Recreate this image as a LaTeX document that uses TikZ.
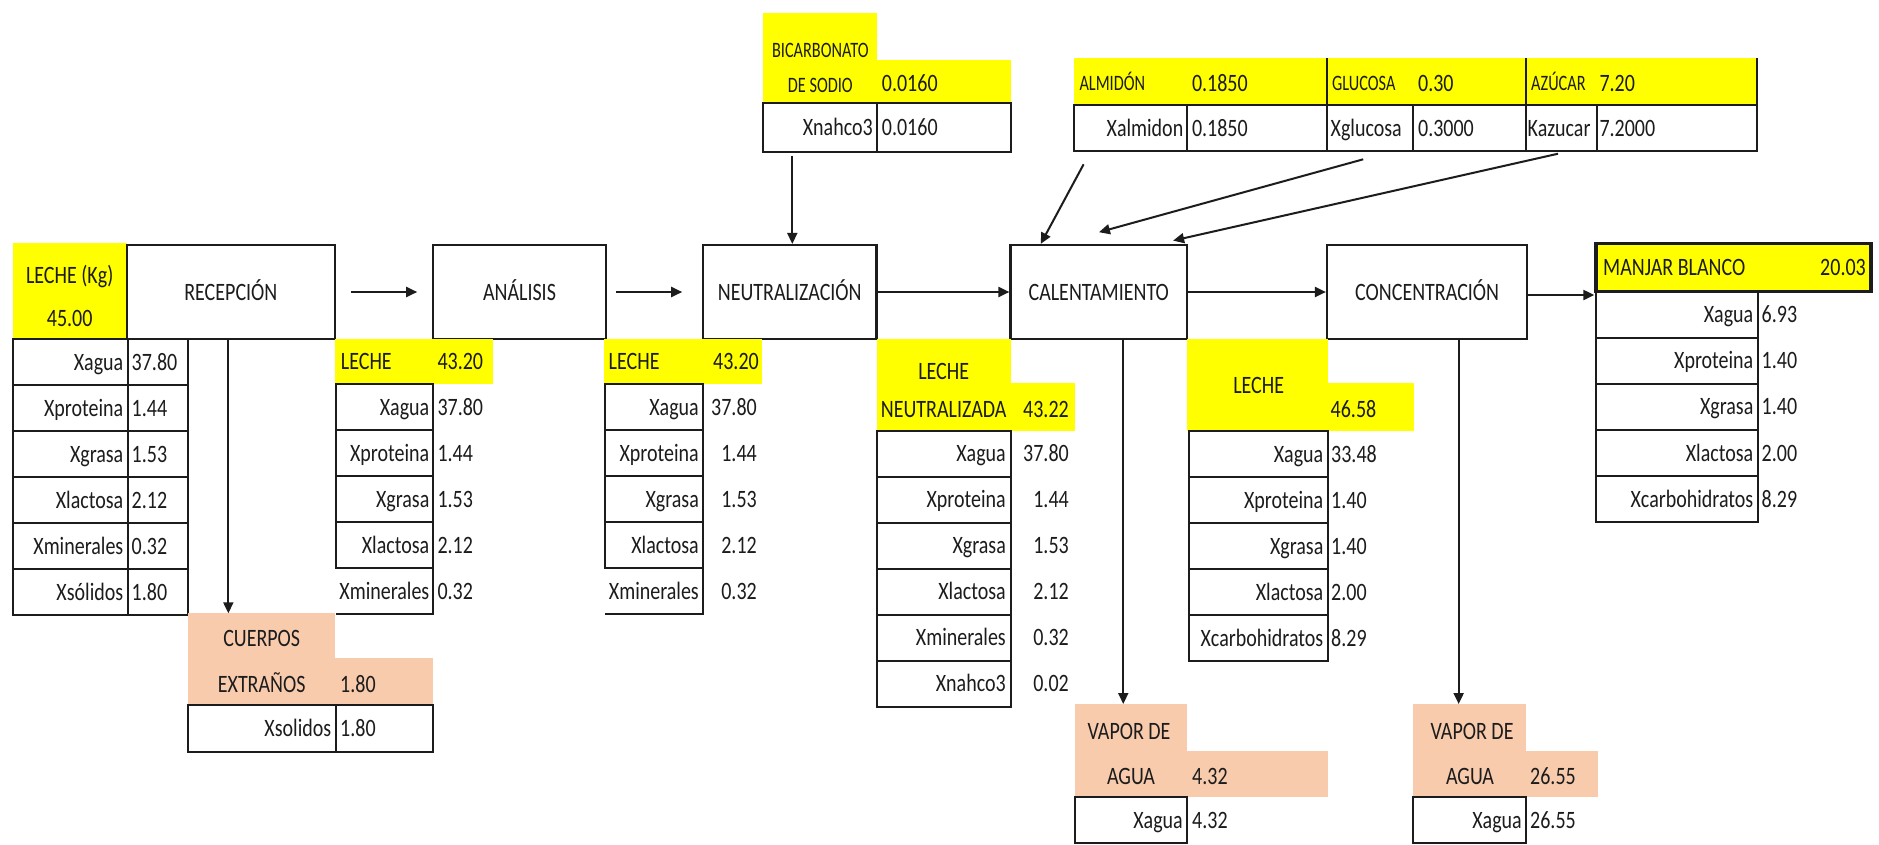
\documentclass[tikz,border=0pt]{standalone}
\usepackage{fontspec}
\setmainfont{Carlito}[FakeStretch=0.8]
\newfontfamily\condfont{Carlito}[FakeStretch=0.74]
\usetikzlibrary{arrows.meta}
\definecolor{yel}{HTML}{FFFF00}
\definecolor{sal}{HTML}{F8CBAD}
\definecolor{ink}{HTML}{1C1C1C}

\begin{document}
\begin{tikzpicture}[x=1pt,y=-1pt,
  txt/.style={text=ink, inner sep=0pt, text height=16pt, text depth=0pt, font=\fontsize{25}{28}\selectfont},
  sm/.style={text=ink, inner sep=0pt, text height=14pt, text depth=0pt, font=\condfont\fontsize{22}{25}\selectfont},
  proc/.style={draw=ink, line width=2.2pt, fill=white, inner sep=0pt, text=ink,
    text height=16pt, text depth=0pt, font=\fontsize{25}{28}\selectfont},
  cell/.style={draw=ink, line width=2pt},
  cellnode/.style={draw=ink, line width=2pt, inner sep=0pt},
  blk/.style={inner sep=0pt, outer sep=0pt},
  arr/.style={draw=ink, line width=2pt, -{Triangle[length=11pt,width=10pt]}},
]
\useasboundingbox (0,0) rectangle (1879,844);
\fill[white] (0,0) rectangle (1879,844);

% ---------- process steps ----------
\node[blk, fill=yel, minimum width=114pt, minimum height=96pt] (lk) at (69.7,291) {};
\node[txt] (lkA) at (69.7,275) {LECHE (Kg)};
\node[txt] (lkB) at (69.7,318) {45.00};

\node[proc, minimum width=208.3pt, minimum height=94pt] (rec)  at (230.85,292) {RECEPCIÓN};
\node[proc, minimum width=172.4pt, minimum height=94pt] (ana)  at (519.5,292)  {ANÁLISIS};
\node[proc, minimum width=173.5pt, minimum height=94pt] (neu)  at (789.75,292) {NEUTRALIZACIÓN};
\node[proc, minimum width=176.5pt, minimum height=94pt] (cal)  at (1098.75,292) {CALENTAMIENTO};
\node[proc, minimum width=200.3pt, minimum height=94pt] (conc) at (1427.15,292) {CONCENTRACIÓN};

% ---------- leche de entrada ----------
\foreach \l/\v [count=\i from 0] in {Xagua/37.80,Xproteina/1.44,Xgrasa/1.53,Xlactosa/2.12,Xminerales/0.32,Xsólidos/1.80}{
  \pgfmathsetmacro\yt{339+46*\i}
  \draw[cell] (12.7,\yt) rectangle (127.7,\yt+46);
  \draw[cell] (127.7,\yt) rectangle (188.3,\yt+46);
  \node[txt, anchor=east] (ra\i) at (123.5,\yt+23) {\l};
  \node[txt, anchor=west] (rb\i) at (131.5,\yt+23) {\v};
}

% ---------- cuerpos extraños ----------
\node[blk, fill=sal, minimum width=146.7pt, minimum height=91.7pt] (cuL) at (261.65,659.15) {};
\node[blk, fill=sal, minimum width=98.3pt, minimum height=46.7pt] (cuV) at (384.15,681.65) {};
\node[txt] (cuA) at (261.7,638.3) {CUERPOS};
\node[txt] (cuB) at (261.7,684) {EXTRAÑOS};
\node[txt, anchor=west] (cuC) at (340,684) {1.80};
\draw[cell] (188.3,705) rectangle (335.7,751.7);
\draw[cell] (335.7,705) rectangle (433.3,751.7);
\node[txt, anchor=east] (cuD) at (331.5,728.3) {Xsolidos};
\node[txt, anchor=west] (cuE) at (340,728.3) {1.80};

% ---------- leche analizada ----------
\fill[yel] (335,339) rectangle (493,384.3);
\node[txt, anchor=west] (anA) at (340.7,361.7) {LECHE};
\node[txt, anchor=west] (anB) at (437.3,361.7) {43.20};
\foreach \l/\v [count=\i from 0] in {Xagua/37.80,Xproteina/1.44,Xgrasa/1.53,Xlactosa/2.12,Xminerales/0.32}{
  \pgfmathsetmacro\yt{384.3+46*\i}
  \node[txt, anchor=east] (aa\i) at (429.5,\yt+23) {\l};
  \node[txt, anchor=west] (ab\i) at (437.3,\yt+23) {\v};
}
\foreach \i in {0,...,3}{\draw[cell] (336,384.3+46*\i) rectangle (433.3,430.3+46*\i);}
\draw[cell] (433.3,568.3) -- (433.3,614.3) -- (336,614.3);

% ---------- leche a neutralizar ----------
\fill[yel] (604,339) rectangle (762,384.3);
\node[txt, anchor=west] (nuA) at (608.5,361.7) {LECHE};
\node[txt, anchor=east] (nuB) at (759,361.7) {43.20};
\foreach \l/\v [count=\i from 0] in {Xagua/37.80,Xproteina/1.44,Xgrasa/1.53,Xlactosa/2.12,Xminerales/0.32}{
  \pgfmathsetmacro\yt{384.3+46*\i}
  \node[txt, anchor=east] (na\i) at (699,\yt+23) {\l};
  \node[txt, anchor=east] (nb\i) at (757,\yt+23) {\v};
}
\foreach \i in {0,...,3}{\draw[cell] (605,384.3+46*\i) rectangle (702.8,430.3+46*\i);}
\draw[cell] (702.8,568.3) -- (702.8,614.3) -- (605,614.3);

% ---------- leche neutralizada ----------
\fill[yel] (877,339) rectangle (1010.5,430.7);
\fill[yel] (1010.5,383.3) rectangle (1075,430.7);
\node[txt] (lnA) at (943.7,371.7) {LECHE};
\node[txt] (lnB) at (943.7,409.3) {NEUTRALIZADA};
\node[txt, anchor=east] (lnC) at (1069,409.3) {43.22};
\foreach \l/\v [count=\i from 0] in {Xagua/37.80,Xproteina/1.44,Xgrasa/1.53,Xlactosa/2.12,Xminerales/0.32,Xnahco3/0.02}{
  \pgfmathsetmacro\yt{430.7+46*\i}
  \draw[cell] (877,\yt) rectangle (1010.5,\yt+46);
  \node[txt, anchor=east] (la\i) at (1006,\yt+23) {\l};
  \node[txt, anchor=east] (lb\i) at (1069,\yt+23) {\v};
}

% ---------- leche calentada ----------
\fill[yel] (1187,339) rectangle (1327.6,431);
\fill[yel] (1327.6,383.3) rectangle (1414,431);
\node[txt] (lcA) at (1258.7,385) {LECHE};
\node[txt, anchor=west] (lcB) at (1330.5,409) {46.58};
\foreach \l/\v [count=\i from 0] in {Xagua/33.48,Xproteina/1.40,Xgrasa/1.40,Xlactosa/2.00,Xcarbohidratos/8.29}{
  \pgfmathsetmacro\yt{431+46*\i}
  \draw[cell] (1188.5,\yt) rectangle (1327.6,\yt+46);
  \node[txt, anchor=east] (ca\i) at (1323.5,\yt+23) {\l};
  \node[txt, anchor=west] (cb\i) at (1331,\yt+23) {\v};
}

% ---------- manjar blanco ----------
\foreach \l/\v [count=\i from 0] in {Xagua/6.93,Xproteina/1.40,Xgrasa/1.40,Xlactosa/2.00,Xcarbohidratos/8.29}{
  \pgfmathsetmacro\yt{291.7+46.1*\i}
  \draw[cell] (1596.2,\yt) rectangle (1757.8,\yt+46.1);
  \node[txt, anchor=east] (ma\i) at (1753.5,\yt+23) {\l};
  \node[txt, anchor=west] (mb\i) at (1761.5,\yt+23) {\v};
}
\node[draw=ink, line width=3.5pt, fill=yel, inner sep=0pt, minimum width=275pt, minimum height=48.4pt] (mh) at (1733.6,267.5) {};
\node[txt, anchor=west] (mhA) at (1603,267.5) {MANJAR BLANCO};
\node[txt, anchor=east] (mhB) at (1866,267.5) {20.03};

% ---------- bicarbonato de sodio ----------
\fill[yel] (763.3,13.3) rectangle (877.3,103.3);
\fill[yel] (877.3,60) rectangle (1010.7,103.3);
\node[sm] (bcA) at (820.3,50) {BICARBONATO};
\node[sm] (bcB) at (820.3,85) {DE SODIO};
\node[txt, anchor=west] (bcC) at (881.7,83) {0.0160};
\node[cellnode, minimum width=114pt, minimum height=48.4pt] (bxn) at (820.3,127.5) {};
\draw[cell] (877.3,103.3) rectangle (1010.7,151.7);
\node[txt, anchor=east] (bcD) at (873,127.5) {Xnahco3};
\node[txt, anchor=west] (bcE) at (881.7,127.5) {0.0160};

% ---------- almidón, glucosa, azúcar ----------
\fill[yel] (1074,58.3) rectangle (1756.7,105);
\draw[cell] (1326.8,58.3) -- (1326.8,105) (1526.4,58.3) -- (1526.4,105) (1756.7,58.3) -- (1756.7,105);
\node[cellnode, minimum width=113.1pt, minimum height=46pt] (alm) at (1130.55,128) {};
\draw[cell] (1187.1,105) rectangle (1326.8,151);
\node[cellnode, minimum width=86.4pt, minimum height=46pt] (glu) at (1370,128) {};
\draw[cell] (1413.2,105) rectangle (1526.4,151);
\node[cellnode, minimum width=70.3pt, minimum height=46pt] (azu) at (1561.55,128) {};
\draw[cell] (1596.7,105) rectangle (1756.7,151);
\node[sm, anchor=west] (amA) at (1079.3,83.3) {ALMIDÓN};
\node[txt, anchor=west] (amB) at (1191.8,83.3) {0.1850};
\node[sm, anchor=west] (guA) at (1332,83.3) {GLUCOSA};
\node[txt, anchor=west] (guB) at (1417.9,83.3) {0.30};
\node[sm, anchor=west] (azA) at (1531,83.3) {AZÚCAR};
\node[txt, anchor=west] (azB) at (1599.3,83.3) {7.20};
\node[txt, anchor=east] (amC) at (1183.5,128) {Xalmidon};
\node[txt, anchor=west] (amD) at (1191.8,128) {0.1850};
\node[txt, anchor=west] (guC) at (1330.5,128) {Xglucosa};
\node[txt, anchor=west] (guD) at (1417.9,128) {0.3000};
\node[txt, anchor=west] (azC) at (1527.5,128) {Kazucar};
\node[txt, anchor=west] (azD) at (1599.3,128) {7.2000};

% ---------- vapor de agua (calentamiento) ----------
\node[blk, fill=sal, minimum width=112.5pt, minimum height=93.3pt] (v1L) at (1130.85,750.65) {};
\fill[sal] (1187.1,750.7) rectangle (1327.5,797.3);
\node[txt] (v1A) at (1129,731.7) {VAPOR DE};
\node[txt] (v1B) at (1131,776.7) {AGUA};
\node[txt, anchor=west] (v1C) at (1192,776.7) {4.32};
\draw[cell] (1074.6,797.3) rectangle (1187.1,843);
\node[txt, anchor=east] (v1D) at (1183,820) {Xagua};
\node[txt, anchor=west] (v1E) at (1192,820) {4.32};

% ---------- vapor de agua (concentración) ----------
\node[blk, fill=sal, minimum width=113.2pt, minimum height=93.3pt] (v2L) at (1469.8,750.65) {};
\fill[sal] (1526.4,750.7) rectangle (1598,797.3);
\node[txt] (v2A) at (1472,731.7) {VAPOR DE};
\node[txt] (v2B) at (1470,776.7) {AGUA};
\node[txt, anchor=west] (v2C) at (1530,776.7) {26.55};
\draw[cell] (1413.2,797.3) rectangle (1526.4,843);
\node[txt, anchor=east] (v2D) at (1522,820) {Xagua};
\node[txt, anchor=west] (v2E) at (1530,820) {26.55};

% ---------- flujo principal ----------
\draw[arr] ([xshift=15pt]rec.east) -- ([xshift=-15pt]ana.west);
\draw[arr] ([xshift=9.3pt]ana.east) -- ([xshift=-19.7pt]neu.west);
\draw[arr] (neu.east) -- (cal.west);
\draw[arr] (cal.east) -- (conc.west);
\draw[arr] ([yshift=-3pt]conc.east) -- ([yshift=-3pt]conc.east -| mh.west);

% ---------- entradas y salidas ----------
\draw[arr] ([xshift=-2.5pt]rec.south) -- ([xshift=-2.5pt]rec.south |- cuL.north);
\draw[arr] ([xshift=-28pt,yshift=-3pt]bxn.south) -- ([xshift=-28pt]bxn.south |- neu.north);
\draw[arr] ([xshift=10.6pt,yshift=-12.3pt]alm.south west) -- ([xshift=31.3pt]cal.north west);
\draw[arr] ([xshift=-6.8pt,yshift=-7.3pt]glu.south) -- ([xshift=0.2pt,yshift=11.7pt]cal.north);
\draw[arr] ([xshift=-3.5pt,yshift=-1.7pt]azu.south) -- ([xshift=-15pt,yshift=3.3pt]cal.north east);
\draw[arr] ([xshift=24.5pt]cal.south) -- ([xshift=24.5pt]cal.south |- v1L.north);
\draw[arr] ([xshift=31.5pt]conc.south) -- ([xshift=31.5pt]conc.south |- v2L.north);
\end{tikzpicture}
\end{document}
